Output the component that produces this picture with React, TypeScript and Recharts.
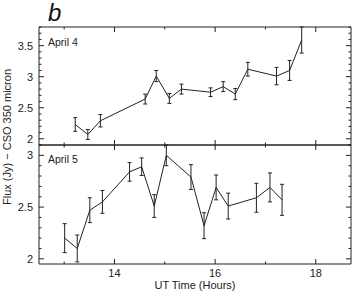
import { LineChart, Line, XAxis, YAxis, ErrorBar } from 'recharts'

// hours (UT)
const hourTicks = [13, 14, 15, 16, 17, 18]
const hourLabels = [14, 16, 18]

const april4Time = [13.22, 13.47, 13.72, 14.61, 14.83, 15.09, 15.33, 15.91, 16.16, 16.4, 16.65, 17.22, 17.48, 17.72]
const april4Flux = [2.23, 2.07, 2.29, 2.64, 3.01, 2.65, 2.8, 2.75, 2.84, 2.72, 3.12, 3.01, 3.1, 3.59]
const april4Err = [0.11, 0.08, 0.1, 0.08, 0.09, 0.08, 0.08, 0.07, 0.08, 0.09, 0.11, 0.14, 0.16, 0.21]

const april5Time = [13.01, 13.26, 13.51, 13.76, 14.3, 14.54, 14.79, 15.03, 15.52, 15.78, 16.02, 16.26, 16.82, 17.09, 17.33]
const april5Flux = [2.2, 2.1, 2.47, 2.55, 2.84, 2.89, 2.51, 3.0, 2.79, 2.32, 2.69, 2.51, 2.59, 2.69, 2.57]
const april5Err = [0.14, 0.13, 0.12, 0.11, 0.09, 0.085, 0.11, 0.1, 0.12, 0.125, 0.12, 0.125, 0.14, 0.14, 0.15]

const topTicks = [1.9, 2.0, 2.1, 2.2, 2.3, 2.4, 2.5, 2.6, 2.7, 2.8, 2.9, 3.0, 3.1, 3.2, 3.3, 3.4, 3.5, 3.6, 3.7, 3.8]
const topLabels = [2, 2.5, 3, 3.5]
const bottomTicks = [2.0, 2.1, 2.2, 2.3, 2.4, 2.5, 2.6, 2.7, 2.8, 2.9, 3.0, 3.1]
const bottomLabels = [2, 2.5, 3]

const april4 = april4Time.map((t, i) => ({ t, flux: april4Flux[i], err: april4Err[i] }))
const april5 = april5Time.map((t, i) => ({ t, flux: april5Flux[i], err: april5Err[i] }))

const INK = '#222'
const FONT = '"Liberation Sans", Arial, sans-serif'

type Side = 'top' | 'bottom' | 'left' | 'right'

const has = (list: number[], v: number) => list.some((m) => Math.abs(m - v) < 1e-6)

function makeTick(side: Side, major: number[], showLabels: boolean) {
  return (props: any) => {
    const x = Number(props.x)
    const y = Number(props.y)
    const v = props.payload.value
    const isMajor = has(major, v)
    const len = isMajor ? 5 : 2.5
    let x2 = x
    let y2 = y
    if (side === 'bottom') y2 = y - len
    else if (side === 'top') y2 = y + len
    else if (side === 'left') x2 = x + len
    else x2 = x - len
    let label = null
    if (showLabels && isMajor && side === 'bottom')
      label = (
        <text x={x} y={y + 13} textAnchor="middle" fontSize={11} fill={INK} fontFamily={FONT}>
          {v}
        </text>
      )
    if (showLabels && isMajor && side === 'left')
      label = (
        <text x={x - 6} y={y + 4} textAnchor="end" fontSize={11} fill={INK} fontFamily={FONT}>
          {v}
        </text>
      )
    return (
      <g>
        <line x1={x} y1={y} x2={x2} y2={y2} stroke={INK} strokeWidth={1} />
        {label}
      </g>
    )
  }
}

interface PanelProps {
  data: { t: number; flux: number; err: number }[]
  domain: [number, number]
  yTicks: number[]
  yLabels: number[]
  height: number
  topAxisHeight: number
  bottomAxisHeight: number
  xLabels: boolean
}

function Panel({ data, domain, yTicks, yLabels, height, topAxisHeight, bottomAxisHeight, xLabels }: PanelProps) {
  return (
    <LineChart width={352} height={height} data={data} margin={{ top: 0, right: 0, bottom: 0, left: 0 }}>
      <XAxis
        dataKey="t"
        type="number"
        domain={[12.5, 18.7]}
        ticks={hourTicks}
        interval={0}
        height={bottomAxisHeight}
        tickSize={0}
        tickMargin={0}
        stroke={INK}
        tickLine={false}
        tick={makeTick('bottom', hourLabels, xLabels)}
      />
      <XAxis
        xAxisId="top"
        dataKey="t"
        orientation="top"
        type="number"
        domain={[12.5, 18.7]}
        ticks={hourTicks}
        interval={0}
        height={topAxisHeight}
        tickSize={0}
        tickMargin={0}
        stroke={INK}
        tickLine={false}
        tick={makeTick('top', hourLabels, false)}
      />
      <YAxis
        type="number"
        domain={domain}
        ticks={yTicks}
        interval={0}
        width={39}
        tickSize={0}
        tickMargin={0}
        stroke={INK}
        tickLine={false}
        tick={makeTick('left', yLabels, true)}
      />
      <YAxis
        yAxisId="right"
        orientation="right"
        type="number"
        domain={domain}
        ticks={yTicks}
        interval={0}
        width={1}
        tickSize={0}
        tickMargin={0}
        stroke={INK}
        tickLine={false}
        tick={makeTick('right', yLabels, false)}
      />
      {/* invisible twin so the top and right axes get the same scale */}
      <Line xAxisId="top" yAxisId="right" dataKey="flux" stroke="none" dot={false} activeDot={false} isAnimationActive={false} />
      <Line dataKey="flux" stroke={INK} strokeWidth={1} dot={false} isAnimationActive={false}>
        <ErrorBar dataKey="err" direction="y" width={2} stroke={INK} strokeWidth={1} isAnimationActive={false} />
      </Line>
    </LineChart>
  )
}

export default function App() {
  return (
    <div style={{ position: 'absolute', left: 0, top: 0, width: 352, height: 291, background: '#fff' }}>
      <div style={{ position: 'absolute', left: 0, top: 0 }}>
        <Panel
          data={april4}
          domain={[1.9, 3.8]}
          yTicks={topTicks}
          yLabels={topLabels}
          height={146}
          topAxisHeight={27}
          bottomAxisHeight={1}
          xLabels={false}
        />
      </div>
      <div style={{ position: 'absolute', left: 0, top: 144 }}>
        <Panel
          data={april5}
          domain={[1.95, 3.1]}
          yTicks={bottomTicks}
          yLabels={bottomLabels}
          height={147}
          topAxisHeight={1}
          bottomAxisHeight={27}
          xLabels={true}
        />
      </div>
      <svg width={352} height={291} style={{ position: 'absolute', left: 0, top: 0, pointerEvents: 'none' }}>
        <text x={48} y={21} fontSize={24} fontStyle="italic" fill="#111" fontFamily={FONT}>
          b
        </text>
        <text x={48} y={46} fontSize={10.5} fill={INK} fontFamily={FONT}>
          April  4
        </text>
        <text x={48} y={163} fontSize={10.5} fill={INK} fontFamily={FONT}>
          April  5
        </text>
        <text
          transform="translate(11,137) rotate(-90)"
          textAnchor="middle"
          fontSize={11}
          fill={INK}
          fontFamily={FONT}
        >
          Flux (Jy) − CSO 350 micron
        </text>
        <text x={195} y={289} textAnchor="middle" fontSize={11} fill={INK} fontFamily={FONT}>
          UT Time (Hours)
        </text>
      </svg>
    </div>
  )
}
